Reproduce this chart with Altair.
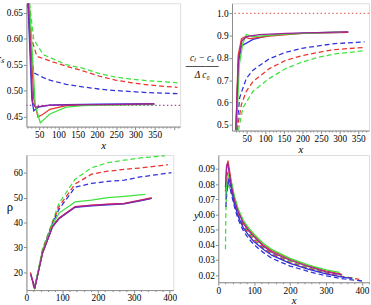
import altair as alt
import pandas as pd

RED = "#e8352f"
BLUE = "#3131dc"
GREEN = "#3fe23f"
PURPLE = "#a0229a"
AXIS_C = "#8a8a8a"
TXT = "#000000"
FONT = "Liberation Serif"

# ---------------- Panel 1 : c_S vs x ----------------
P1_DG_X = [25, 36, 61, 120, 163, 205, 248, 290, 332, 409]
P1_DG_Y = [0.668, 0.598, 0.569, 0.550, 0.543, 0.533, 0.526, 0.522, 0.519, 0.515]
P1_DR_X = [23, 31, 44, 78, 120, 163, 205, 248, 290, 332, 409]
P1_DR_Y = [0.668, 0.598, 0.566, 0.557, 0.547, 0.538, 0.528, 0.520, 0.515, 0.511, 0.506]
P1_DB_X = [21, 29, 36, 61, 78, 120, 163, 205, 248, 290, 332, 409]
P1_DB_Y = [0.668, 0.579, 0.534, 0.525, 0.520, 0.512, 0.507, 0.503, 0.500, 0.498, 0.496, 0.494]
P1_SB_X = [21, 31, 36, 48, 78, 120, 205, 349]
P1_SB_Y = [0.668, 0.484, 0.461, 0.468, 0.472, 0.473, 0.474, 0.475]
P1_SR_X = [24, 36, 47, 61, 78, 120, 163, 349]
P1_SR_Y = [0.668, 0.484, 0.449, 0.455, 0.464, 0.471, 0.472, 0.474]
P1_SG_X = [25, 40, 53, 65, 78, 120, 163, 205, 349]
P1_SG_Y = [0.668, 0.471, 0.438, 0.446, 0.455, 0.468, 0.471, 0.472, 0.473]
P1_SP_X = [22, 33, 40, 78, 205, 349]
P1_SP_Y = [0.668, 0.477, 0.468, 0.472, 0.473, 0.474]
P1_REF = 0.4715

# ---------------- Panel 2 : (cL - cS)/dc0 vs x ----------------
P2_DG_X = [28, 40, 67, 111, 155, 199, 243, 287, 367]
P2_DG_Y = [0.475, 0.577, 0.650, 0.708, 0.752, 0.781, 0.803, 0.818, 0.832]
P2_DR_X = [24, 36, 49, 67, 111, 155, 199, 243, 287, 367]
P2_DR_Y = [0.475, 0.592, 0.650, 0.694, 0.752, 0.789, 0.810, 0.825, 0.837, 0.847]
P2_DB_X = [23, 31, 49, 67, 111, 155, 199, 243, 287, 367]
P2_DB_Y = [0.475, 0.621, 0.708, 0.745, 0.796, 0.825, 0.843, 0.854, 0.864, 0.872]
P2_SB_X = [21, 27, 36, 67, 111, 155, 243, 323]
P2_SB_Y = [0.475, 0.767, 0.854, 0.883, 0.901, 0.908, 0.913, 0.915]
P2_SR_X = [21, 27, 36, 45, 58, 111, 199, 323]
P2_SR_Y = [0.475, 0.810, 0.886, 0.894, 0.886, 0.898, 0.910, 0.915]
P2_SG_X = [23, 30, 39, 49, 67, 111, 155, 287, 305]
P2_SG_Y = [0.475, 0.767, 0.861, 0.905, 0.895, 0.901, 0.907, 0.915, 0.915]
P2_SP_X = [21, 28, 37, 49, 84, 155, 323]
P2_SP_Y = [0.475, 0.796, 0.876, 0.895, 0.904, 0.910, 0.917]
P2_REF = 1.0

# ---------------- Panel 3 ----------------
P3_DG_X = [20, 23, 45, 73, 91, 136, 182, 227, 273, 318, 386]
P3_DG_Y = [14.5, 13.6, 29.5, 40.5, 47.7, 57.4, 62.0, 64.0, 65.0, 65.9, 66.8]
P3_DR_X = [18, 23, 45, 73, 91, 136, 182, 227, 273, 318, 395]
P3_DR_Y = [15.2, 13.7, 28.8, 39.9, 46.4, 55.5, 59.4, 60.6, 61.3, 61.9, 63.2]
P3_DB_X = [18, 23, 45, 73, 91, 136, 182, 227, 273, 318, 405]
P3_DB_Y = [16.5, 13.8, 28.4, 39.6, 45.3, 54.2, 55.7, 56.5, 57.0, 58.3, 60.0]
P3_SG_X = [21, 45, 73, 91, 136, 182, 227, 273, 332]
P3_SG_Y = [13.3, 28.2, 39.2, 43.8, 48.3, 49.0, 50.0, 50.5, 51.3]
P3_SB_X = [12, 23, 45, 73, 91, 136, 182, 227, 273, 318, 350]
P3_SB_Y = [19.0, 13.5, 27.7, 38.3, 41.5, 46.1, 46.7, 47.1, 47.5, 48.7, 49.7]
P3_SR_X = [11, 23, 45, 73, 91, 136, 182, 227, 273, 318, 350]
P3_SR_Y = [20.0, 13.6, 27.9, 38.6, 41.8, 46.4, 47.0, 47.4, 47.7, 49.0, 50.0]
P3_SP_X = [12, 23, 45, 73, 91, 136, 182, 227, 273, 318, 345]
P3_SP_Y = [19.5, 13.6, 27.8, 38.5, 41.7, 46.3, 46.9, 47.3, 47.6, 48.9, 49.6]

# ---------------- Panel 4 : y vs x ----------------
P4_DG_X = [20, 21, 23, 26, 30, 38, 45, 55, 70, 85, 100, 125, 150, 200, 250, 300, 350, 384]
P4_DG_Y = [0.037, 0.060, 0.077, 0.079, 0.078, 0.073, 0.067, 0.060, 0.053, 0.048, 0.044, 0.0385, 0.0345, 0.029, 0.025, 0.0215, 0.019, 0.0176]
P4_DR_X = [21, 24, 27, 31, 38, 45, 55, 70, 85, 100, 125, 150, 200, 250, 300, 350, 393]
P4_DR_Y = [0.070, 0.085, 0.088, 0.084, 0.075, 0.068, 0.060, 0.052, 0.047, 0.0432, 0.0378, 0.0338, 0.0283, 0.0245, 0.0212, 0.0188, 0.0172]
P4_DB_X = [21, 25, 28, 32, 38, 45, 55, 70, 85, 100, 125, 150, 200, 250, 300, 350, 405]
P4_DB_Y = [0.065, 0.078, 0.081, 0.078, 0.072, 0.065, 0.057, 0.049, 0.044, 0.040, 0.035, 0.031, 0.026, 0.0225, 0.0195, 0.0175, 0.016]
P4_SB_X = [21, 25, 29, 33, 38, 45, 55, 70, 85, 100, 125, 150, 200, 250, 300, 350, 373]
P4_SB_Y = [0.070, 0.080, 0.083, 0.081, 0.075, 0.067, 0.059, 0.051, 0.046, 0.042, 0.037, 0.033, 0.0278, 0.024, 0.0208, 0.0185, 0.0178]
P4_SG_X = [20, 24, 28, 32, 38, 45, 55, 70, 85, 100, 125, 150, 200, 250, 300, 338]
P4_SG_Y = [0.070, 0.082, 0.086, 0.085, 0.080, 0.072, 0.064, 0.056, 0.051, 0.047, 0.041, 0.0368, 0.031, 0.0268, 0.0235, 0.0218]
P4_SR_X = [20, 23, 27, 32, 38, 45, 55, 70, 85, 100, 125, 150, 200, 250, 300, 343]
P4_SR_Y = [0.075, 0.090, 0.0955, 0.088, 0.079, 0.071, 0.063, 0.055, 0.050, 0.046, 0.040, 0.036, 0.0305, 0.0262, 0.0228, 0.0207]
P4_SP_X = [20, 23, 26, 30, 38, 45, 55, 70, 85, 100, 125, 150, 200, 250, 300, 345]
P4_SP_Y = [0.078, 0.092, 0.094, 0.088, 0.077, 0.069, 0.062, 0.054, 0.049, 0.0452, 0.0392, 0.035, 0.0298, 0.0257, 0.0222, 0.0202]

SERIES = ["DG", "DR", "DB", "SB", "SR", "SG", "SP"]
COLORS = [GREEN, RED, BLUE, BLUE, RED, GREEN, PURPLE]
DASHES = [[5, 3], [5, 3], [5, 3], [1, 0], [1, 0], [1, 0], [1, 0]]


def frame(pairs):
    rows = []
    for key, xs, ys in pairs:
        for i, (a, b) in enumerate(zip(xs, ys)):
            rows.append({"x": a, "y": b, "s": key, "i": i})
    return pd.DataFrame(rows)


def panel(df, xdom, ydom, w, h, xstart, major_step, minor_step, label_max, yvals, yfmt,
          xtitle_y, ytitle, ytx, yty, ytitle_size=11, ref=None, ref_color=None,
          ytitle_align="center", ytitle_style="italic", ytitle_lh=None):
    xvals = [v for v in range(xstart, int(xdom[1]) + 1, minor_step) if xdom[0] <= v <= xdom[1]]
    xaxis = alt.Axis(
        values=xvals,
        labelExpr=f"(datum.value % {major_step} === 0 && datum.value <= {label_max}) ? datum.label : ''",
        tickSize={"condition": {"test": f"datum.value % {major_step} !== 0", "value": 1.5}, "value": 3},
        grid=False, domainColor=AXIS_C, tickColor=AXIS_C, labelColor=TXT,
        labelFont=FONT, labelFontSize=9.5, labelPadding=0, labelFlush=False,
        labelOverlap=False, title="x", titleFont=FONT, titleFontSize=11,
        titleFontStyle="italic", titleFontWeight="normal", titleColor=TXT,
        titleY=xtitle_y, titleBaseline="middle",
    )
    yargs = dict(
        values=yvals, format=yfmt, grid=False, domainColor=AXIS_C,
        tickColor=AXIS_C, tickSize=3, labelColor=TXT, labelFont=FONT,
        labelFontSize=9.5, labelPadding=1, labelFlush=False, labelOverlap=False,
        title=ytitle, titleFont=FONT, titleFontSize=ytitle_size,
        titleFontStyle=ytitle_style, titleFontWeight="normal", titleColor=TXT,
        titleAngle=0, titleX=ytx, titleY=yty, titleAlign=ytitle_align,
        titleBaseline="middle",
    )
    if ytitle_lh is not None:
        yargs["titleLineHeight"] = ytitle_lh
    yaxis = alt.Axis(**yargs)
    xs = alt.X("x:Q", scale=alt.Scale(domain=xdom, nice=False, zero=False), axis=xaxis)
    ys = alt.Y("y:Q", scale=alt.Scale(domain=ydom, nice=False, zero=False), axis=yaxis)
    color = alt.Color("s:N", scale=alt.Scale(domain=SERIES, range=COLORS), legend=None)
    dash = alt.StrokeDash("s:N", scale=alt.Scale(domain=SERIES, range=DASHES), legend=None)
    base = alt.Chart(df)
    dashed = base.transform_filter("indexof(datum.s, 'D') === 0").mark_line(
        clip=True, strokeWidth=1.3).encode(x=xs, y=ys, color=color, strokeDash=dash,
                                           detail="s:N", order="i:Q")
    solid = base.transform_filter("indexof(datum.s, 'S') === 0").mark_line(
        clip=True, strokeWidth=1.3).encode(x=xs, y=ys, color=color, detail="s:N", order="i:Q")
    layers = [dashed, solid]
    if ref is not None:
        rule = alt.Chart(pd.DataFrame({"y": [ref]})).mark_rule(
            color=ref_color, strokeDash=[1.5, 2.5], strokeWidth=1.2).encode(y=ys)
        layers.insert(0, rule)
    return alt.layer(*layers).properties(width=w, height=h)


def series_frame(prefix):
    g = globals()
    return frame([(k, g[f"{prefix}_{k}_X"], g[f"{prefix}_{k}_Y"]) for k in SERIES])


p1 = panel(series_frame("P1"), [17, 416], [0.4306, 0.668], 157, 126, 20, 50, 10, 350,
           [0.45, 0.50, 0.55, 0.60, 0.65], ".2f", 19, "cₛ", -31, 57,
           ytitle_align="left", ref=P1_REF, ref_color="#a050a0")
p2 = panel(series_frame("P2"), [10.5, 379], [0.474, 1.045], 140, 130, 20, 50, 10, 350,
           [0.5, 0.6, 0.7, 0.8, 0.9, 1.0], ".1f", 19,
           ["cₗ − cₛ", "─────", "Δ c₀"], -31, 55, ytitle_size=9.5, ytitle_lh=9,
           ref=P2_REF, ref_color="#e07070")
p3 = panel(series_frame("P3"), [0, 410], [12.9, 67.1], 150, 138, 0, 100, 20, 400,
           [20, 30, 40, 50, 60], "d", 19, "ρ", -14, 53, ytitle_size=13,
           ytitle_align="right", ytitle_style="normal")
p4 = panel(series_frame("P4"), [0, 420], [0.0153, 0.0992], 154, 130, 0, 100, 20, 400,
           [0.02, 0.03, 0.04, 0.05, 0.06, 0.07, 0.08, 0.09], ".2f", 19, "y", -23, 62)

row1 = alt.hconcat(p1, p2, spacing=2)
row2 = alt.hconcat(p3, p4, spacing=16)
chart = alt.vconcat(row1, row2, spacing=-8).properties(
    padding={"left": -5, "top": -1, "right": 0, "bottom": -8}
).configure_view(stroke=None).configure(background="white")

chart.save("out.html", embed_options={"renderer": "svg", "actions": False})
